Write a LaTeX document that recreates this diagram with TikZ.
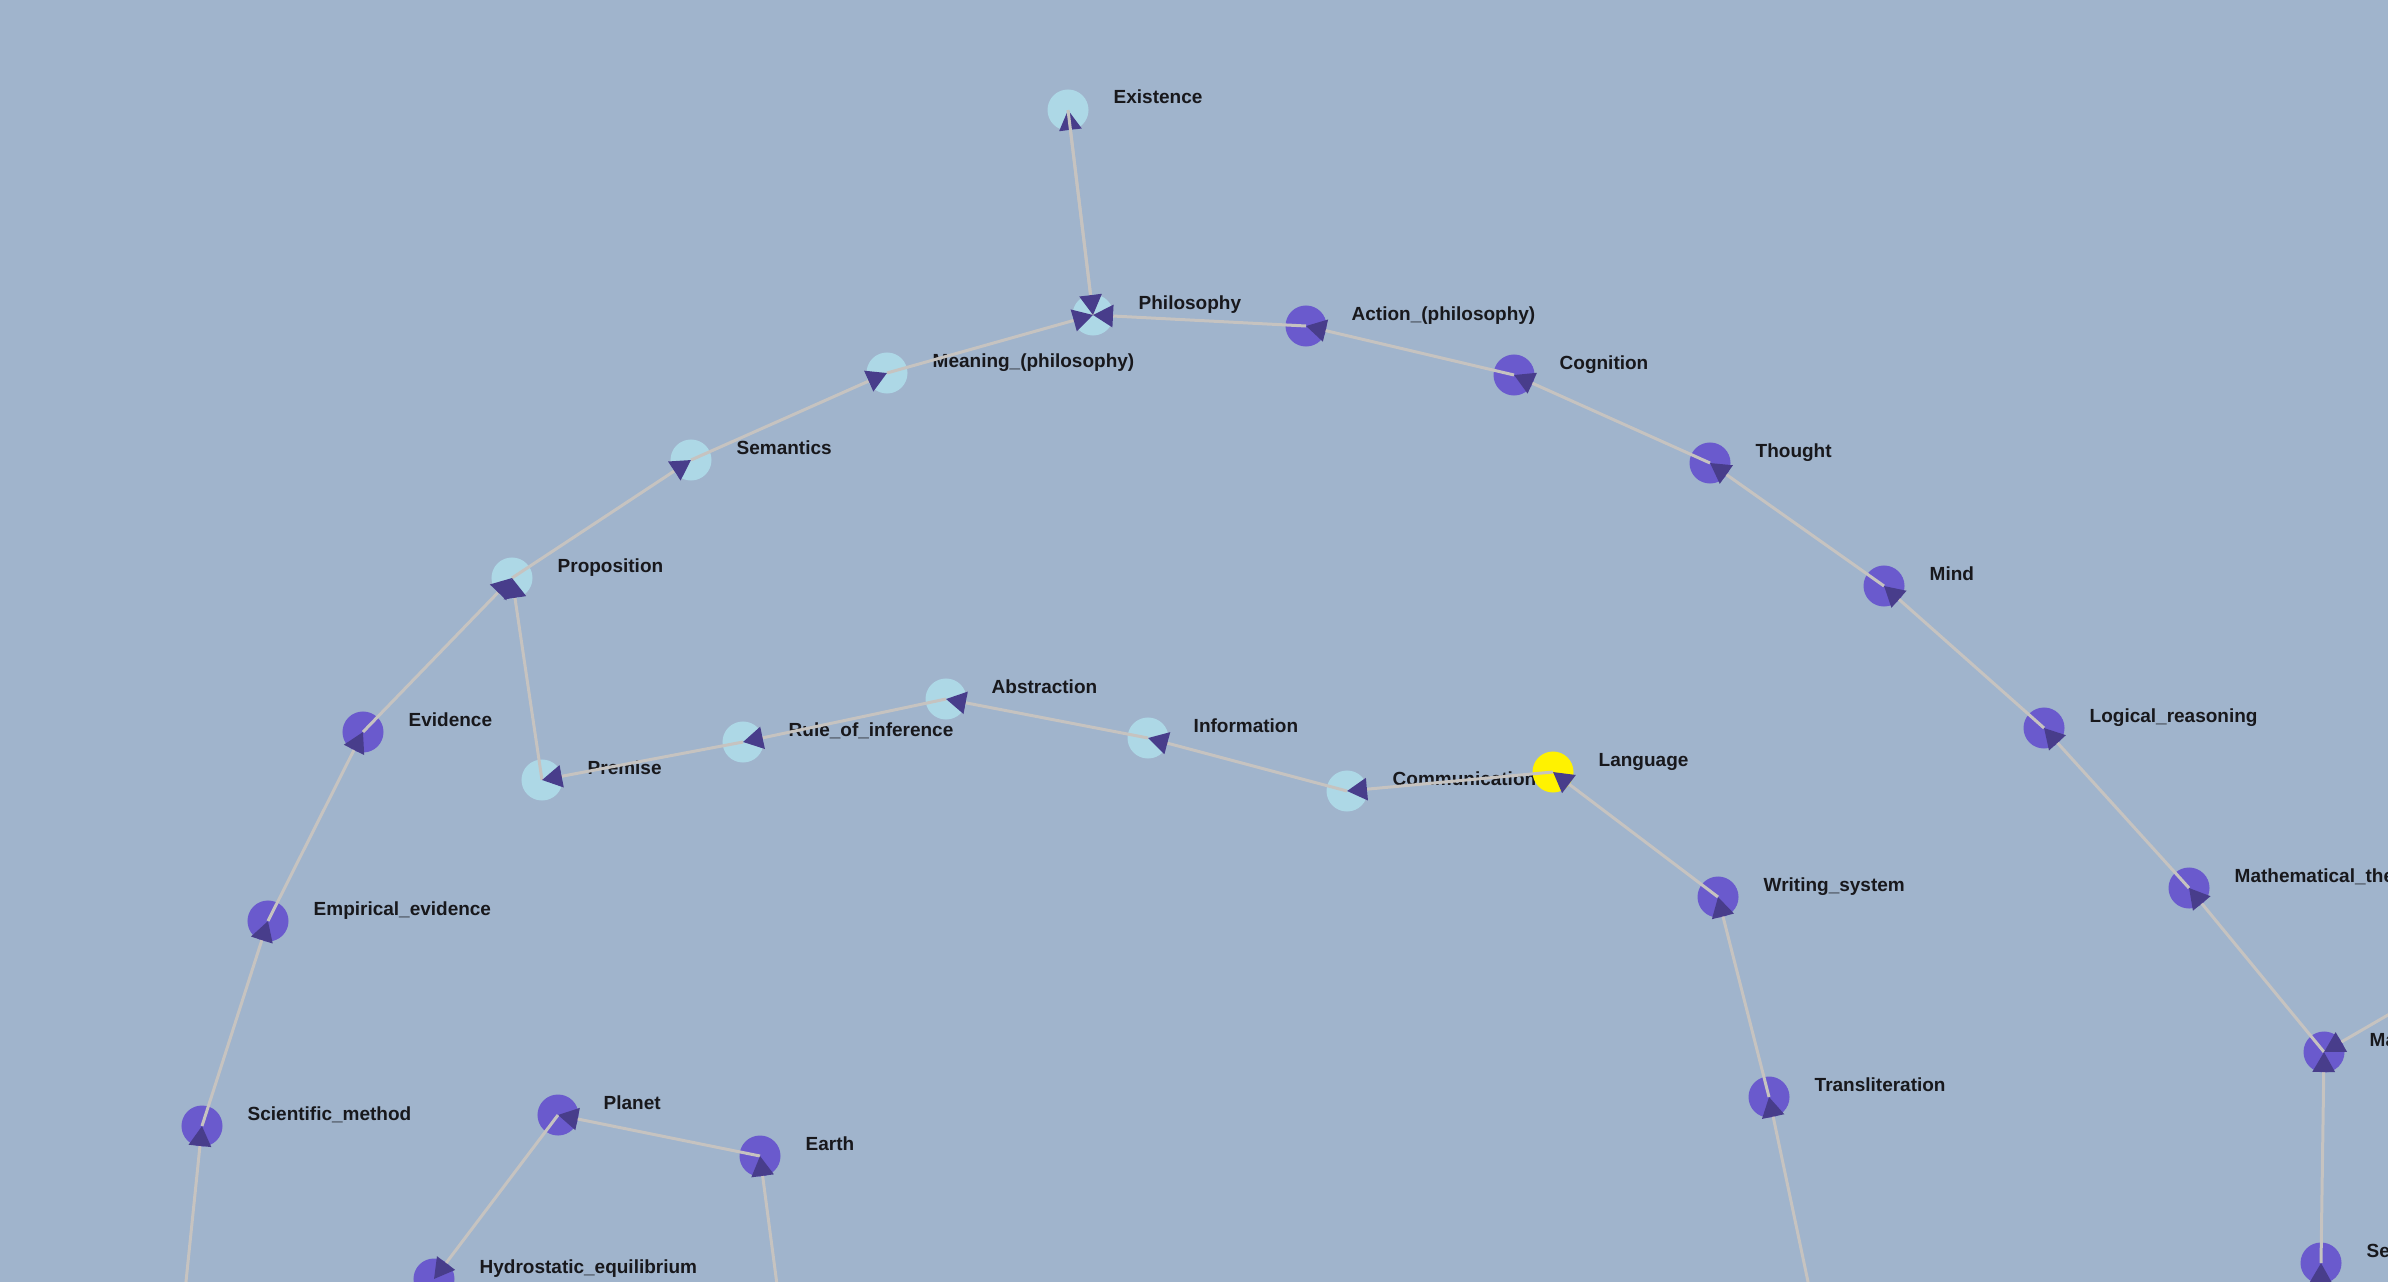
\documentclass[tikz,border=0pt]{standalone}
\usepackage{fontspec}
\setmainfont{Liberation Sans}
\usetikzlibrary{arrows.meta}
\definecolor{bgc}{RGB}{160,180,204}
\definecolor{paleblue}{RGB}{173,216,230}
\definecolor{slate}{RGB}{106,90,205}
\definecolor{arrowc}{RGB}{72,61,139}
\definecolor{edgec}{RGB}{198,195,192}
\definecolor{labelc}{RGB}{24,24,28}
\tikzset{
	concept/.style={circle, minimum size=0.41cm, inner sep=0pt, draw=none},
	lbl/.style={anchor=base west, inner sep=0pt, text=labelc, font=\bfseries\fontsize{5.4}{6}\selectfont},
	link/.style={draw=edgec, line width=0.03cm, -{Triangle[length=0.2cm,width=0.22cm,color=arrowc]}},
}
\def\topic(#1)(#2,#3)[#4]#5{\node[concept, fill=#4] (#1) at (#2,#3) {}; \node[lbl] (#1-txt) at (#2+45,#3-6) {#5};}

\begin{document}
\begin{tikzpicture}[x=0.01cm, y=-0.01cm]
			%%%%% START %%%%%
			
			\fill[bgc] (0,0) rectangle (2388,1282);
			\useasboundingbox (0,0) rectangle (2388,1282);
			\clip (0,0) rectangle (2388,1282);
			
			\topic(existence)(1068,110)[paleblue]{Existence}
			\topic(philosophy)(1093,315)[paleblue]{Philosophy}
			\topic(meaning)(887,373)[paleblue]{Meaning\_(philosophy)}
			\topic(semantics)(691,460)[paleblue]{Semantics}
			\topic(proposition)(512,578)[paleblue]{Proposition}
			\topic(premise)(542,780)[paleblue]{Premise}
			\topic(rule)(743,742)[paleblue]{Rule\_of\_inference}
			\topic(abstraction)(946,699)[paleblue]{Abstraction}
			\topic(information)(1148,738)[paleblue]{Information}
			\topic(communication)(1347,791)[paleblue]{Communication}
			\topic(language)(1553,772)[yellow]{Language}
			
			\topic(action)(1306,326)[slate]{Action\_(philosophy)}
			\topic(cognition)(1514,375)[slate]{Cognition}
			\topic(thought)(1710,463)[slate]{Thought}
			\topic(mind)(1884,586)[slate]{Mind}
			\topic(logic)(2044,728)[slate]{Logical\_reasoning}
			\topic(maththe)(2189,888)[slate]{Mathematical\_the}
			\topic(ma)(2324,1052)[slate]{Ma}
			\topic(se)(2321,1263)[slate]{Se}
			
			\topic(evidence)(363,732)[slate]{Evidence}
			\topic(empirical)(268,921)[slate]{Empirical\_evidence}
			\topic(scimethod)(202,1126)[slate]{Scientific\_method}
			\topic(planet)(558,1115)[slate]{Planet}
			\topic(earth)(760,1156)[slate]{Earth}
			\topic(hydro)(434,1279)[slate]{Hydrostatic\_equilibrium}
			\topic(writing)(1718,897)[slate]{Writing\_system}
			\topic(translit)(1769,1097)[slate]{Transliteration}
			
			% ends outside the frame
			\coordinate (offma) at (2450,979);
			\coordinate (offse) at (2320,1340);
			\coordinate (offsci) at (180,1340);
			\coordinate (offearth) at (783,1330);
			\coordinate (offtr) at (1815,1315);
			
			\draw[link] (philosophy.center) -- (existence.center);
			\draw[link] (existence.center) -- (philosophy.center);
			\draw[link] (meaning.center) -- (philosophy.center);
			\draw[link] (action.center) -- (philosophy.center);
			\draw[link] (cognition.center) -- (action.center);
			\draw[link] (thought.center) -- (cognition.center);
			\draw[link] (mind.center) -- (thought.center);
			\draw[link] (logic.center) -- (mind.center);
			\draw[link] (maththe.center) -- (logic.center);
			\draw[link] (ma.center) -- (maththe.center);
			\draw[link] (offma) -- (ma.center);
			\draw[link] (se.center) -- (ma.center);
			\draw[link] (offse) -- (se.center);
			
			\draw[link] (semantics.center) -- (meaning.center);
			\draw[link] (proposition.center) -- (semantics.center);
			\draw[link] (evidence.center) -- (proposition.center);
			\draw[link] (premise.center) -- (proposition.center);
			\draw[link] (empirical.center) -- (evidence.center);
			\draw[link] (scimethod.center) -- (empirical.center);
			\draw[link] (offsci) -- (scimethod.center);
			
			\draw[link] (rule.center) -- (premise.center);
			\draw[link] (abstraction.center) -- (rule.center);
			\draw[link] (information.center) -- (abstraction.center);
			\draw[link] (communication.center) -- (information.center);
			\draw[link] (language.center) -- (communication.center);
			\draw[link] (writing.center) -- (language.center);
			\draw[link] (translit.center) -- (writing.center);
			\draw[link] (offtr) -- (translit.center);
			
			\draw[link] (earth.center) -- (planet.center);
			\draw[link] (offearth) -- (earth.center);
			\draw[link] (planet.center) -- (hydro.center);
			
			%%%%% END %%%%%
\end{tikzpicture}
\end{document}
